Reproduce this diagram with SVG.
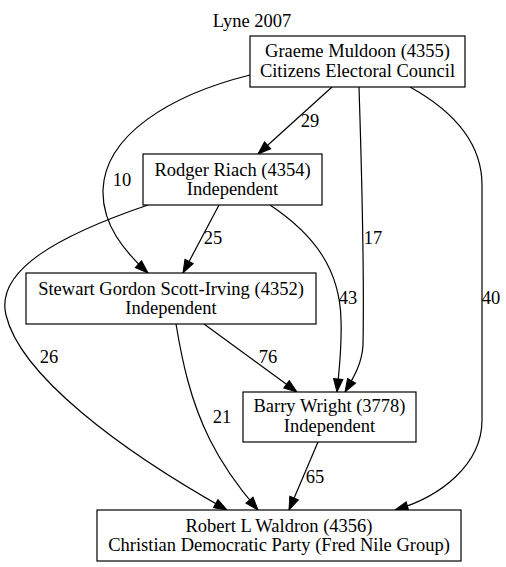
<svg xmlns="http://www.w3.org/2000/svg" width="506" height="567" viewBox="0 0 506 567">
<style>
text{font-family:'Liberation Serif','Times New Roman',serif;font-size:18.5px;fill:#000;text-anchor:middle}
.n rect{fill:#fff;stroke:#000;stroke-width:1.2}
.e path{fill:none;stroke:#000;stroke-width:1.2;marker-end:url(#a)}
</style>
<defs>
<marker id="a" markerUnits="userSpaceOnUse" markerWidth="13" markerHeight="10" refX="13" refY="4.65" orient="auto" overflow="visible">
<path d="M0,0 L13,4.65 L0,9.3 z" fill="#000" stroke="#000" stroke-width="1"/>
</marker>
</defs>
<rect width="506" height="567" fill="#fff"/>
<text x="252" y="27">Lyne 2007</text>
<g id="edges" class="e">
<path d="M332,87 L258,154"/>
<path d="M250,75 C170,95 105,135 103,190 C102,225 125,252 148,273"/>
<path d="M359,87 C362,180 364,290 363,345 C362,365 352,380 345,392"/>
<path d="M410,87 C455,112 482,145 482,185 L482,420 C482,465 440,497 395,510"/>
<path d="M219,205 L183,273"/>
<path d="M148,205 C60,235 -5,270 6,315 C20,375 120,450 227,510"/>
<path d="M270,205 C315,235 340,270 341,320 C342,350 339,370 337,392"/>
<path d="M204,324 L297,392"/>
<path d="M176,324 C182,360 190,400 210,440 C225,470 245,495 258,510"/>
<path d="M318,442 L289,510"/>
</g>
<g id="edge-labels">
<text x="310" y="127">29</text>
<text x="122" y="186">10</text>
<text x="373" y="244">17</text>
<text x="491" y="304">40</text>
<text x="213" y="244">25</text>
<text x="49" y="363">26</text>
<text x="348" y="304">43</text>
<text x="268" y="363">76</text>
<text x="222" y="423">21</text>
<text x="315" y="483">65</text>
</g>
<g id="n4355" class="n">
<rect x="250" y="36" width="215" height="51"/>
<text x="357.5" y="57">Graeme Muldoon (4355)</text>
<text x="357.5" y="77">Citizens Electoral Council</text>
</g>
<g id="n4354" class="n">
<rect x="143" y="154" width="179" height="51"/>
<text x="232.5" y="176">Rodger Riach (4354)</text>
<text x="232.5" y="195">Independent</text>
</g>
<g id="n4352" class="n">
<rect x="26" y="273" width="290" height="51"/>
<text x="171" y="295">Stewart Gordon Scott-Irving (4352)</text>
<text x="171" y="314">Independent</text>
</g>
<g id="n3778" class="n">
<rect x="243" y="392" width="173" height="50"/>
<text x="329.5" y="412">Barry Wright (3778)</text>
<text x="329.5" y="432">Independent</text>
</g>
<g id="n4356" class="n">
<rect x="97" y="510" width="364" height="51"/>
<text x="279" y="532">Robert L Waldron (4356)</text>
<text x="279" y="551">Christian Democratic Party (Fred Nile Group)</text>
</g>
</svg>
